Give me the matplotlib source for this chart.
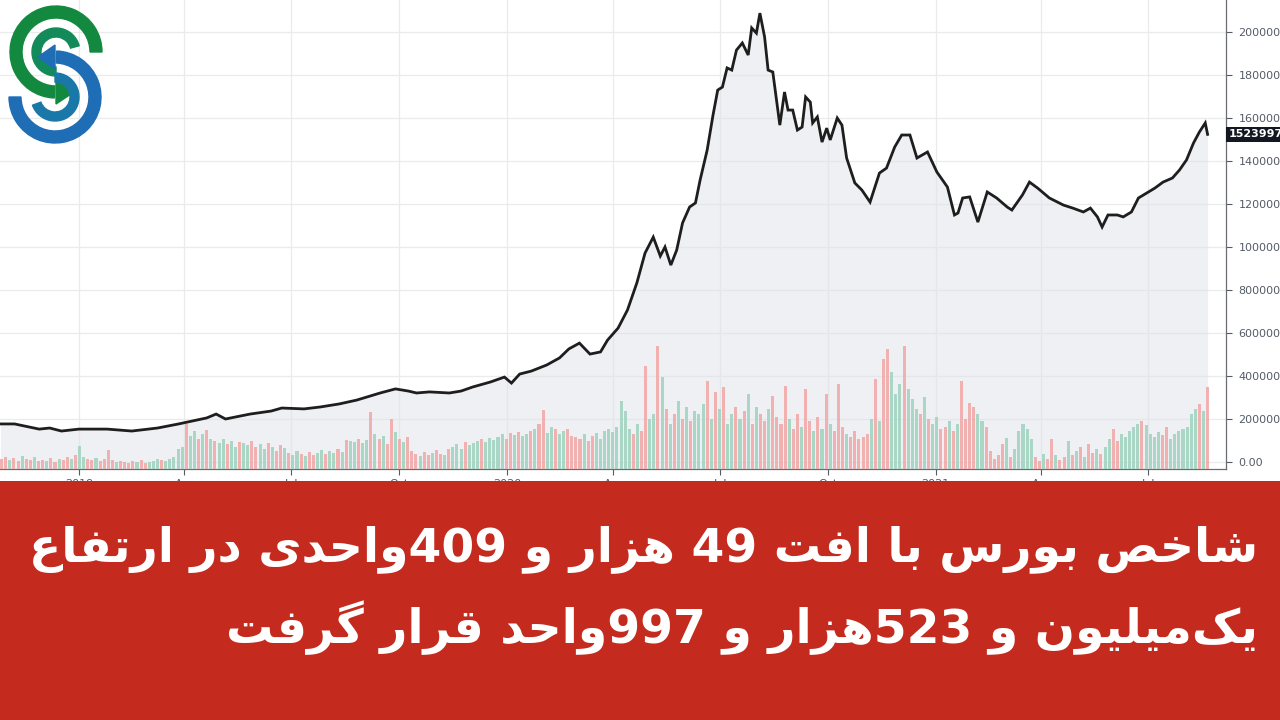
import re
import numpy as np
import pandas as pd
import matplotlib
matplotlib.use('Agg')
import matplotlib.pyplot as plt
import matplotlib.dates as mdates
import matplotlib.transforms as mtransforms
from matplotlib.patches import Wedge, Polygon, Rectangle

# TEDPIX close (thousands)
index_dates = [
    '2018-10-26', '2018-11-07', '2018-11-19', '2018-11-28', '2018-12-07', '2018-12-17',
    '2019-01-01', '2019-01-25', '2019-02-15', '2019-03-09', '2019-03-27', '2019-04-08',
    '2019-04-20', '2019-04-28', '2019-05-06', '2019-05-27', '2019-06-14', '2019-06-23',
    '2019-07-12', '2019-07-26', '2019-08-11', '2019-08-26', '2019-09-15', '2019-09-28',
    '2019-10-09', '2019-10-16', '2019-10-27', '2019-11-13', '2019-11-23', '2019-12-03',
    '2019-12-18', '2019-12-30', '2020-01-05', '2020-01-12', '2020-01-22', '2020-02-04',
    '2020-02-15', '2020-02-23', '2020-03-03', '2020-03-12', '2020-03-21', '2020-03-27',
    '2020-04-05', '2020-04-13', '2020-04-21', '2020-04-28', '2020-05-05', '2020-05-11',
    '2020-05-15', '2020-05-20', '2020-05-25', '2020-05-30', '2020-06-05', '2020-06-10',
    '2020-06-14', '2020-06-20', '2020-06-25', '2020-06-29', '2020-07-03', '2020-07-07',
    '2020-07-11', '2020-07-15', '2020-07-20', '2020-07-25', '2020-07-28', '2020-08-01',
    '2020-08-04', '2020-08-08', '2020-08-11', '2020-08-15', '2020-08-21', '2020-08-25',
    '2020-08-28', '2020-09-01', '2020-09-05', '2020-09-09', '2020-09-12', '2020-09-16',
    '2020-09-18', '2020-09-22', '2020-09-26', '2020-09-30', '2020-10-03', '2020-10-09',
    '2020-10-13', '2020-10-17', '2020-10-24', '2020-10-30', '2020-11-06', '2020-11-14',
    '2020-11-20', '2020-11-27', '2020-12-03', '2020-12-10', '2020-12-16', '2020-12-25',
    '2021-01-02', '2021-01-11', '2021-01-17', '2021-01-20', '2021-01-24', '2021-01-30',
    '2021-02-06', '2021-02-14', '2021-02-22', '2021-03-03', '2021-03-07', '2021-03-16',
    '2021-03-22', '2021-03-29', '2021-04-08', '2021-04-20', '2021-04-28', '2021-05-07',
    '2021-05-13', '2021-05-19', '2021-05-23', '2021-05-28', '2021-06-05', '2021-06-10',
    '2021-06-17', '2021-06-23', '2021-06-30', '2021-07-07', '2021-07-14', '2021-07-22',
    '2021-07-28', '2021-08-03', '2021-08-09', '2021-08-14', '2021-08-19', '2021-08-21',
]
index_close = [
    177, 177, 163, 153, 158, 144,
    153, 153, 144, 158, 177, 191,
    205, 223, 200, 223, 237, 251,
    247, 256, 270, 288, 321, 340,
    330, 321, 326, 321, 330, 349,
    372, 395, 367, 409, 423, 451,
    484, 526, 553, 502, 512, 567,
    623, 707, 833, 972, 1046, 958,
    1000, 916, 986, 1112, 1186, 1205,
    1312, 1451, 1614, 1730, 1744, 1833,
    1823, 1916, 1949, 1893, 2019, 1995,
    2088, 1977, 1823, 1814, 1567, 1721,
    1637, 1637, 1544, 1558, 1698, 1674,
    1577, 1605, 1488, 1553, 1498, 1600,
    1567, 1414, 1298, 1265, 1209, 1344,
    1367, 1465, 1521, 1521, 1414, 1442,
    1349, 1279, 1149, 1158, 1228, 1233,
    1116, 1256, 1228, 1186, 1172, 1242,
    1302, 1274, 1228, 1195, 1181, 1163,
    1181, 1140, 1093, 1149, 1149, 1140,
    1163, 1228, 1251, 1274, 1302, 1321,
    1358, 1405, 1484, 1535, 1577, 1523.997,
]
last_value = 1523997

# volume, two sessions per week (rough units), and bar colour r = down, g = up
volume = [
    10, 12, 9, 11, 8, 13, 10, 9, 12, 8,
    9, 8, 11, 7, 10, 9, 12, 10, 14, 23,
    12, 10, 9, 11, 8, 10, 19, 9, 7, 8,
    7, 6, 8, 7, 9, 6, 7, 8, 10, 9,
    8, 10, 12, 20, 22, 45, 33, 38, 30, 35,
    39, 30, 28, 26, 30, 25, 28, 22, 27, 26,
    24, 28, 22, 25, 20, 26, 22, 18, 24, 21,
    16, 14, 18, 15, 13, 17, 14, 16, 19, 15,
    18, 16, 20, 17, 29, 28, 27, 30, 26, 29,
    57, 35, 30, 33, 25, 50, 37, 30, 27, 32,
    18, 15, 13, 17, 14, 16, 19, 15, 14, 20,
    22, 25, 20, 27, 24, 26, 28, 30, 27, 31,
    29, 32, 35, 30, 36, 34, 37, 33, 35, 38,
    40, 45, 59, 36, 42, 40, 35, 38, 40, 33,
    32, 30, 35, 28, 33, 36, 30, 38, 40, 37,
    42, 68, 58, 40, 35, 45, 38, 103, 50, 55,
    123, 92, 60, 45, 55, 68, 50, 62, 48, 58,
    55, 65, 88, 50, 77, 60, 82, 45, 55, 62,
    50, 58, 75, 45, 62, 55, 48, 60, 73, 52,
    45, 83, 50, 40, 55, 42, 80, 48, 38, 52,
    40, 75, 45, 38, 85, 42, 35, 32, 38, 30,
    32, 35, 50, 90, 48, 110, 120, 97, 75, 85,
    123, 80, 70, 60, 55, 72, 50, 45, 52, 40,
    42, 48, 38, 45, 88, 50, 66, 62, 55, 48,
    42, 18, 10, 14, 25, 31, 12, 20, 38, 45,
    40, 30, 12, 8, 15, 10, 30, 14, 9, 12,
    28, 14, 18, 22, 12, 25, 16, 20, 15, 22,
    30, 40, 28, 35, 32, 38, 42, 45, 48, 44,
    35, 32, 37, 34, 42, 30, 35, 38, 40, 42,
    55, 60, 65, 58, 82,
]
volume_dir = (
    "rrgrrgrrgr" "rgrrgrrgrg" "grrgrrrrgr" "rrrgrrgggr" "gggggrggrg"
    "rgrggrggrg" "grrggrgrrg" "rggrgrrggr" "ggrgrggrgg" "rgrgrrgrgr"
    "rrgrrgrrgr" "gggrgggrgg" "gggrrgrggr" "grrggrggrr" "rrgrrggggg"
    "ggggrgrrgg" "rgrgrgrgrg" "ggrgrgrggr" "grgrgrrgrr" "rrgrrgrrgr"
    "grgrrrgrrr" "rrgrgrrggg" "rgggrgrggr" "rgrgrrrrgg" "rrrrrgrggg"
    "ggrrgrrgrr" "grgrgrrgrg" "grrgggggrg" "gggrrggggg" "ggrgr"
)

tick_dates = ['2019-01-01', '2019-04-01', '2019-07-01', '2019-10-01', '2020-01-01',
              '2020-04-01', '2020-07-01', '2020-10-01', '2021-01-01', '2021-04-01',
              '2021-07-01']
tick_labels = ['2019', 'Apr', 'Jul', 'Oct', '2020', 'Apr', 'Jul', 'Oct', '2021', 'Apr', 'Jul']
price_ticks = [0, 200000, 400000, 600000, 800000, 1000000, 1200000, 1400000,
               1600000, 1800000, 2000000]

headline = [
    'شاخص بورس با افت 49 هزار و 409واحدی در ارتفاع',
    'یک\u200cمیلیون و 523هزار و 997واحد قرار گرفت',
]

# --- minimal arabic shaping + rtl ordering, matplotlib does neither
FORMS = {
    '\u0627': (0xFE8D, 0xFE8E), '\u062F': (0xFEA9, 0xFEAA), '\u0631': (0xFEAD, 0xFEAE),
    '\u0632': (0xFEAF, 0xFEB0), '\u0648': (0xFEED, 0xFEEE),
    '\u0628': (0xFE8F, 0xFE90, 0xFE91, 0xFE92), '\u062A': (0xFE95, 0xFE96, 0xFE97, 0xFE98),
    '\u062D': (0xFEA1, 0xFEA2, 0xFEA3, 0xFEA4), '\u062E': (0xFEA5, 0xFEA6, 0xFEA7, 0xFEA8),
    '\u0633': (0xFEB1, 0xFEB2, 0xFEB3, 0xFEB4), '\u0634': (0xFEB5, 0xFEB6, 0xFEB7, 0xFEB8),
    '\u0635': (0xFEB9, 0xFEBA, 0xFEBB, 0xFEBC), '\u0639': (0xFEC9, 0xFECA, 0xFECB, 0xFECC),
    '\u0641': (0xFED1, 0xFED2, 0xFED3, 0xFED4), '\u0642': (0xFED5, 0xFED6, 0xFED7, 0xFED8),
    '\u0644': (0xFEDD, 0xFEDE, 0xFEDF, 0xFEE0), '\u0645': (0xFEE1, 0xFEE2, 0xFEE3, 0xFEE4),
    '\u0646': (0xFEE5, 0xFEE6, 0xFEE7, 0xFEE8), '\u0647': (0xFEE9, 0xFEEA, 0xFEEB, 0xFEEC),
    '\u06A9': (0xFB8E, 0xFB8F, 0xFB90, 0xFB91), '\u06AF': (0xFB92, 0xFB93, 0xFB94, 0xFB95),
    '\u06CC': (0xFBFC, 0xFBFD, 0xFBFE, 0xFBFF),
}


def rtl(s):
    out = []
    for i, ch in enumerate(s):
        f = FORMS.get(ch)
        if f is None:
            if ch != '\u200c':
                out.append(ch)
            continue
        prev = s[i - 1] if i > 0 else ''
        nxt = s[i + 1] if i + 1 < len(s) else ''
        jp = prev in FORMS and len(FORMS[prev]) == 4
        jn = len(f) == 4 and nxt in FORMS
        if jp and jn:
            c = f[3]
        elif jp:
            c = f[1]
        elif jn:
            c = f[2]
        else:
            c = f[0]
        out.append(chr(c))
    runs = re.findall(r'[0-9]+|[^0-9]+', ''.join(out))
    return ''.join(r if r[0].isdigit() else r[::-1] for r in reversed(runs))


fig = plt.figure(figsize=(12.8, 7.2), dpi=100)
fig.patch.set_facecolor('white')

ax = fig.add_axes([0, 251 / 720, 1226 / 1280, 469 / 720])
x = mdates.datestr2num(index_dates)
y = np.array(index_close) * 1000
ymin, ymax = -32600, 2149000
ax.fill_between(x, y, ymin, color='#dfe2e8', alpha=0.5, lw=0, zorder=1)
ax.plot(x, y, color='#1e1e1e', lw=2.0, zorder=3, solid_joinstyle='miter')
ax.set_xlim(mdates.datestr2num('2018-10-25 14:00'), mdates.datestr2num('2021-09-05 17:00'))
ax.set_ylim(ymin, ymax)

# volume pane (twinx flips the price axis to the left, so set sides after it)
ax2 = ax.twinx()
vx = pd.date_range('2018-10-27', periods=len(volume), freq='84h')
vcol = ['#f2a6a6' if c == 'r' else '#9ed2bf' for c in volume_dir]
ax2.bar(vx, volume, width=2.6, color=vcol, alpha=0.85, lw=0, zorder=2)
ax2.set_ylim(0, 469)
ax2.set_yticks([])
ax2.patch.set_visible(False)
for s in ax2.spines.values():
    s.set_visible(False)

ax.set_xticks(mdates.datestr2num(tick_dates))
ax.set_xticklabels(tick_labels)
ax.set_yticks(price_ticks)
ax.set_yticklabels(['0.00' if v == 0 else f'{v}.00' for v in price_ticks])
ax.yaxis.tick_right()
ax.yaxis.set_label_position('right')
ax.tick_params(axis='both', labelsize=8, colors='#555b66', length=4, width=0.8)
ax.tick_params(axis='y', pad=5, left=False, labelleft=False, right=True, labelright=True)
ax.tick_params(axis='x', pad=3)
ax.grid(True, color='#ebebeb', lw=0.9)
ax.set_axisbelow(True)
for s in ['left', 'top']:
    ax.spines[s].set_visible(False)
for s in ['right', 'bottom']:
    ax.spines[s].set_color('#6a6d75')
    ax.spines[s].set_linewidth(0.9)

# last price tag
tr = mtransforms.blended_transform_factory(ax.transAxes, ax.transData)
ax.text(1.002, last_value, f'{last_value}.00', transform=tr, ha='left', va='center',
        fontsize=8, color='white', fontweight='bold', clip_on=False, zorder=6,
        bbox=dict(boxstyle='square,pad=0.22', fc='#131722', ec='none'))

# red headline banner
fig.add_artist(Rectangle((0, 0), 1, 239 / 720, transform=fig.transFigure,
                         facecolor='#c42a1e', edgecolor='none', zorder=5))
for i, line in enumerate(headline):
    fig.text(1258 / 1280, [0.238, 0.128][i], rtl(line), ha='right', va='center',
             fontsize=34, fontweight='bold', color='white', family='DejaVu Sans', zorder=6)

# logo
lg = fig.add_axes([0, 570 / 720, 150 / 1280, 150 / 720], zorder=10)
lg.set_xlim(0, 150)
lg.set_ylim(0, 150)
lg.axis('off')
green, blue = '#13893f', '#1f6db5'
lg.add_patch(Wedge((56, 98), 46, 0, 268, width=12, color=green))
lg.add_patch(Wedge((56, 98), 24, 15, 270, width=9, color='#138a5a'))
lg.add_patch(Polygon([(56, 46), (56, 70), (74, 58)], color=green))
lg.add_patch(Wedge((55, 53), 46, 180, 448, width=12, color=blue))
lg.add_patch(Wedge((55, 53), 24, -160, 90, width=9, color='#1a78a8'))
lg.add_patch(Polygon([(55, 81), (55, 105), (38, 93)], color=blue))

fig.savefig('out.png', dpi=100)
